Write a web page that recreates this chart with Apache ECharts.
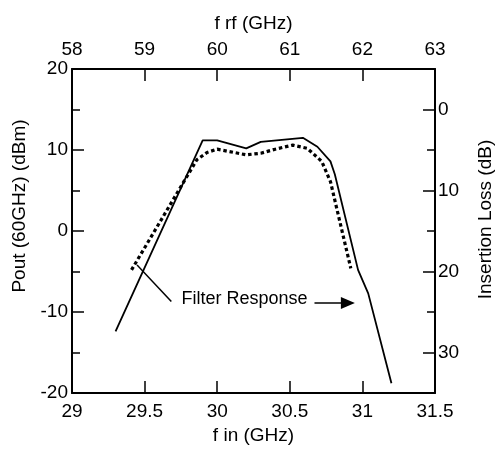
<!DOCTYPE html>
<html>
<head>
<meta charset="utf-8">
<script src="https://cdn.jsdelivr.net/npm/echarts@6/dist/echarts.min.js"></script>
<style>html,body{margin:0;padding:0;background:#fff;}#c{width:503px;height:450px;}</style>
</head>
<body>
<div id="c"></div>
<script>
// Pout (dBm) vs f in (GHz) — solid line, left axis
var poutX = [29.3, 29.9, 30.0, 30.2, 30.3, 30.59, 30.69, 30.78, 30.81, 30.97, 31.04, 31.2];
var poutY = [-12.4, 11.2, 11.2, 10.2, 11.0, 11.5, 10.4, 8.6, 7.0, -4.8, -7.7, -18.8];
// Filter response insertion loss (dB) — dotted line, right axis
var filterX = [29.41, 29.86, 29.93, 30.0, 30.2, 30.3, 30.4, 30.52, 30.62, 30.72, 30.78, 30.92];
var filterLoss = [19.8, 6.2, 5.3, 4.9, 5.6, 5.4, 4.9, 4.4, 4.8, 6.4, 8.9, 19.6];
// tick values
var lossMajorTicks = [0, 10, 20, 30];
var lossMinorTicks = [5, 15, 25];
// annotation (data coordinates, left axis)
var leaderLine = [[29.448, -4.2], [29.684, -8.7]];
var arrowLine = [[30.67, -8.9], [30.9, -8.9]];
var annotText = 'Filter Response';
var annotPos = [29.75, -8.4];

var FONT = 'Liberation Sans, Arial, sans-serif';
var txt = {color: '#000', fontSize: 19, fontFamily: FONT};
function pairs(xs, ys) { return xs.map(function (x, i) { return [x, ys[i]]; }); }
var lineAx = {onZero: false, lineStyle: {color: '#000', width: 2}};
var tick = {inside: true, length: 12, lineStyle: {color: '#000', width: 1.5}};

var chart = echarts.init(document.getElementById('c'), null, {renderer: 'canvas'});
chart.setOption({
  animation: false,
  backgroundColor: '#fff',
  grid: {left: 72, right: 61, top: 69, bottom: 57},
  xAxis: [
    {type: 'value', position: 'bottom', min: 29, max: 31.5, interval: 0.5,
     axisLine: lineAx, axisTick: tick, splitLine: {show: false},
     axisLabel: Object.assign({margin: 9}, txt),
     name: 'f in (GHz)', nameLocation: 'middle', nameGap: 28, nameTextStyle: txt},
    {type: 'value', position: 'top', min: 58, max: 63, interval: 1,
     axisLine: lineAx, axisTick: tick, splitLine: {show: false},
     axisLabel: Object.assign({margin: 10}, txt),
     name: 'f rf (GHz)', nameLocation: 'middle', nameGap: 36, nameTextStyle: txt}
  ],
  yAxis: [
    {type: 'value', position: 'left', min: -20, max: 20, interval: 10,
     axisLine: lineAx, axisTick: tick, splitLine: {show: false},
     minorTick: {show: true, splitNumber: 2, length: 8, lineStyle: {color: '#000', width: 1.5}},
     axisLabel: Object.assign({margin: 4}, txt),
     name: 'Pout (60GHz) (dBm)', nameLocation: 'middle', nameGap: 40, nameRotate: 90,
     nameTextStyle: Object.assign({padding: [0, 0, 0, 50]}, txt)},
    {type: 'value', position: 'right', min: -5, max: 35, inverse: true,
     axisLine: lineAx, splitLine: {show: false},
     axisTick: Object.assign({customValues: lossMajorTicks}, tick),
     axisLabel: Object.assign({margin: 3, customValues: lossMajorTicks}, txt),
     name: 'Insertion Loss (dB)', nameLocation: 'middle', nameGap: 41, nameRotate: 90,
     nameTextStyle: Object.assign({padding: [0, 0, 0, 23]}, txt)},
    {type: 'value', position: 'right', min: -5, max: 35, inverse: true,
     axisLine: {show: false, onZero: false}, splitLine: {show: false},
     axisTick: {inside: true, length: 8, customValues: lossMinorTicks, lineStyle: {color: '#000', width: 1.5}},
     axisLabel: {show: false}}
  ],
  series: [
    {type: 'line', xAxisIndex: 0, yAxisIndex: 0, data: pairs(poutX, poutY),
     showSymbol: false, symbol: 'none', lineStyle: {color: '#000', width: 1.8},
     silent: true,
     markLine: {silent: true, animation: false, label: {show: false},
       lineStyle: {color: '#000', width: 1.5, type: 'solid'},
       data: [
         [{coord: leaderLine[0], symbol: 'none'}, {coord: leaderLine[1], symbol: 'none'}],
         [{coord: arrowLine[0], symbol: 'none'}, {coord: arrowLine[1], symbol: 'triangle', symbolSize: [12, 14]}]
       ]},
     markPoint: {silent: true, animation: false, symbol: 'circle', symbolSize: 1,
       itemStyle: {color: 'rgba(0,0,0,0)'},
       label: Object.assign({show: true, position: 'right', distance: 0, formatter: annotText}, txt, {fontSize: 18}),
       data: [{coord: annotPos}]}
    },
    {type: 'line', xAxisIndex: 0, yAxisIndex: 1, data: pairs(filterX, filterLoss),
     showSymbol: false, symbol: 'none', silent: true,
     lineStyle: {color: '#000', width: 3.2, type: [3.5, 2.8], cap: 'butt'}}
  ]
});
</script>
</body>
</html>
